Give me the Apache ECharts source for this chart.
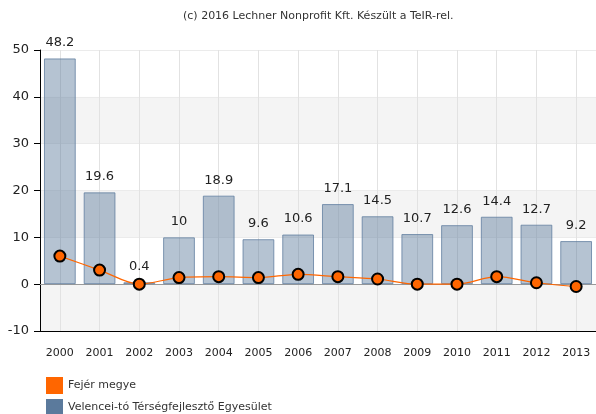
<!DOCTYPE html>
<html>
<head>
<meta charset="utf-8">
<script src="https://cdn.jsdelivr.net/npm/echarts@6/dist/echarts.min.js"></script>
<style>
    html, body { margin: 0; padding: 0; background: #fff; }
    #chart { width: 596px; height: 414px; }
</style>
</head>
<body>
<div id="chart"></div>
<script>
    // adatok
    const years = ['2000', '2001', '2002', '2003', '2004', '2005', '2006', '2007', '2008', '2009', '2010', '2011', '2012', '2013'];
    const egyesuletValues = [48.2, 19.6, 0.4, 10, 18.9, 9.6, 10.6, 17.1, 14.5, 10.7, 12.6, 14.4, 12.7, 9.2];
    const megyeValues = [6.0, 3.0, 0.0, 1.4, 1.6, 1.4, 2.1, 1.6, 1.1, 0.0, 0.0, 1.6, 0.3, -0.5];
    const megyeName = 'Fejér megye';
    const egyesuletName = 'Velencei-tó Térségfejlesztő Egyesület';

    const font = 'Verdana, "DejaVu Sans", sans-serif';
    const chart = echarts.init(document.getElementById('chart'));

    chart.setOption({
        animation: false,
        backgroundColor: '#ffffff',
        textStyle: { fontFamily: font },
        title: {
            text: '(c) 2016 Lechner Nonprofit Kft. Készült a TeIR-rel.',
            left: 178,
            top: 6,
            textStyle: { fontSize: 11, fontWeight: 'normal', color: '#333', fontFamily: font }
        },
        legend: {
            orient: 'vertical',
            left: 46,
            top: 377,
            height: 60,
            padding: 0,
            itemWidth: 17,
            itemHeight: 17,
            itemGap: 5,
            icon: 'rect',
            textStyle: { fontSize: 11, color: '#333', fontFamily: font },
            data: [
                { name: megyeName, itemStyle: { color: '#ff6600', borderWidth: 0 } },
                { name: egyesuletName, itemStyle: { color: '#5b7a9c', borderWidth: 0 } }
            ]
        },
        grid: { left: 40, right: 0, top: 50, bottom: 83 },
        xAxis: [{
            type: 'category',
            data: years,
            position: 'bottom',
            axisLine: { onZero: false, lineStyle: { color: '#000', width: 1 } },
            axisTick: { alignWithLabel: true, length: 5, lineStyle: { color: '#000' } },
            axisLabel: { fontSize: 11, color: '#222', margin: 17, fontFamily: font },
            splitLine: { show: true, alignWithLabel: true, lineStyle: { color: '#e2e2e2' } }
        }, {
            type: 'category',
            data: years,
            position: 'top',
            axisLine: { lineStyle: { color: '#999', width: 1 } },
            axisTick: { show: false },
            axisLabel: { show: false }
        }],
        yAxis: {
            type: 'value',
            min: -10,
            max: 50,
            interval: 10,
            axisLine: { show: true, lineStyle: { color: '#000' } },
            axisTick: { show: true, length: 6, lineStyle: { color: '#000' } },
            axisLabel: { fontSize: 13, color: '#222', margin: 11, fontFamily: font },
            splitLine: { show: true, lineStyle: { color: '#ebebeb' } },
            splitArea: { show: true, areaStyle: { color: ['#f4f4f4', '#ffffff'] } }
        },
        series: [{
            name: egyesuletName,
            type: 'bar',
            data: egyesuletValues,
            barWidth: '80%',
            itemStyle: {
                color: 'rgba(91,122,156,0.45)',
                borderColor: 'rgba(91,122,156,0.75)',
                borderWidth: 1
            },
            label: {
                show: true,
                position: 'top',
                distance: 9,
                fontSize: 13,
                color: '#222',
                fontFamily: font
            },
            z: 2
        }, {
            name: megyeName,
            type: 'line',
            data: megyeValues,
            smooth: 0.3,
            symbol: 'circle',
            symbolSize: 11,
            lineStyle: { color: '#ff6600', width: 1.2 },
            itemStyle: { color: '#ff6600', borderColor: '#000', borderWidth: 2 },
            z: 3
        }]
    });
</script>
</body>
</html>
